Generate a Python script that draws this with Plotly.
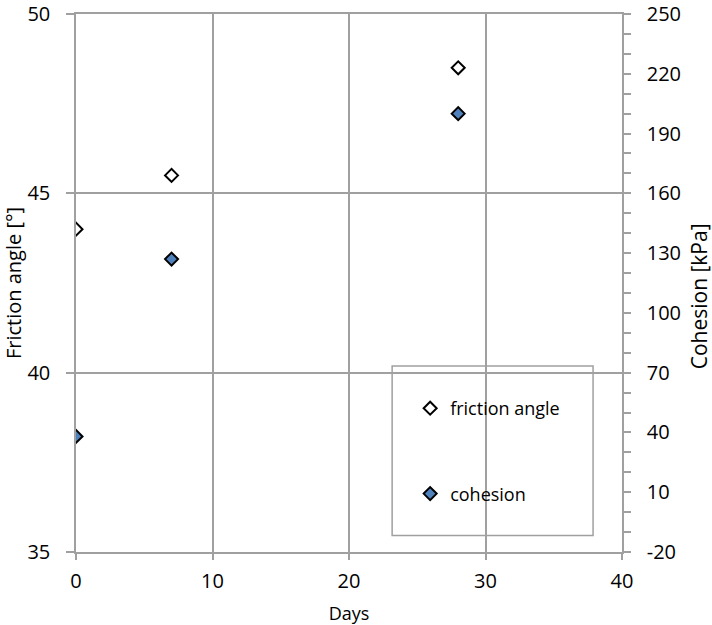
import plotly.graph_objects as go

days = [0, 7, 28]
friction_angle = [44.0, 45.5, 48.5]
cohesion = [38, 127, 200]

x_ticks = [0, 10, 20, 30, 40]
y_ticks = [35, 40, 45, 50]
y2_ticks = [-20, 10, 40, 70, 100, 130, 160, 190, 220, 250]
y2_labels = ["-20", "10", "40", "70", "100", "130", "160", "190", "220", "250"]

FONT = "Open Sans"
GRID = "#a0a0a0"
FS = 20

TOP, BOT = 14, 552
PH = BOT - TOP

fig = go.Figure()
fig.add_trace(go.Scatter(
    x=days, y=friction_angle, mode="markers", name="friction angle",
    legendgroup="a",
    marker=dict(symbol="diamond", size=10, color="white",
                line=dict(color="black", width=2)),
    yaxis="y"))
fig.add_trace(go.Scatter(
    x=days, y=cohesion, mode="markers", name="cohesion",
    legendgroup="b",
    marker=dict(symbol="diamond", size=10, color="#4f81bd",
                line=dict(color="black", width=2)),
    yaxis="y2"))

fig.update_layout(
    width=712, height=625,
    margin=dict(l=76, r=90, t=TOP, b=625 - BOT),
    paper_bgcolor="white", plot_bgcolor="white",
    font=dict(family=FONT, size=FS, color="black"),
    showlegend=True,
    legend=dict(x=0.612, y=(BOT - 390) / PH, xanchor="left", yanchor="top",
                bgcolor="rgba(0,0,0,0)", borderwidth=0,
                tracegroupgap=59, font=dict(family=FONT, size=18)),
    xaxis=dict(range=[0, 40], tickmode="array", tickvals=x_ticks,
               automargin=False, ticklabeloverflow="allow",
               showgrid=True, gridcolor=GRID, gridwidth=1.5,
               zeroline=False,
               showline=True, mirror=True, linecolor=GRID, linewidth=1.5,
               ticks="outside", ticklen=6, tickcolor=GRID,
               tickwidth=1.5, ticklabelstandoff=4,
               title=dict(text="Days", font=dict(size=18), standoff=18)),
    yaxis=dict(range=[35, 50], tickmode="array", tickvals=y_ticks,
               automargin=False, ticklabeloverflow="allow",
               showgrid=True, gridcolor=GRID, gridwidth=1.5,
               zeroline=False,
               showline=True, mirror=True, linecolor=GRID, linewidth=1.5,
               ticks="outside", ticklen=8, tickcolor=GRID, tickwidth=1.5,
               ticklabelstandoff=12,
               title=dict(text="Friction angle [°]", font=dict(size=20),
                          standoff=10)),
    yaxis2=dict(range=[-20, 250], tickmode="array", tickvals=y2_ticks,
                ticktext=y2_labels,
                automargin=False, ticklabeloverflow="allow",
                overlaying="y", side="right", showgrid=False, zeroline=False,
                showline=True, linecolor=GRID, linewidth=1.5,
                ticks="outside", ticklen=7, tickcolor=GRID, tickwidth=1.5,
                ticklabelstandoff=12,
                minor=dict(dtick=10, tick0=0, ticks="outside", ticklen=7,
                           tickcolor=GRID, tickwidth=1.5)),
    shapes=[dict(type="rect", xref="paper", yref="paper",
                 x0=0.579, x1=0.947,
                 y0=(BOT - 535.5) / PH, y1=(BOT - 366) / PH,
                 line=dict(color=GRID, width=1.5), fillcolor="white",
                 layer="below")],
    annotations=[dict(text="Cohesion [kPa]", xref="paper", yref="paper",
                      x=1.0 + (699 - 621.7) / 545.7,
                      y=(BOT - 296) / PH,
                      textangle=-90, showarrow=False,
                      xanchor="center", yanchor="middle",
                      font=dict(size=21))],
)

fig.write_html("out.html")
